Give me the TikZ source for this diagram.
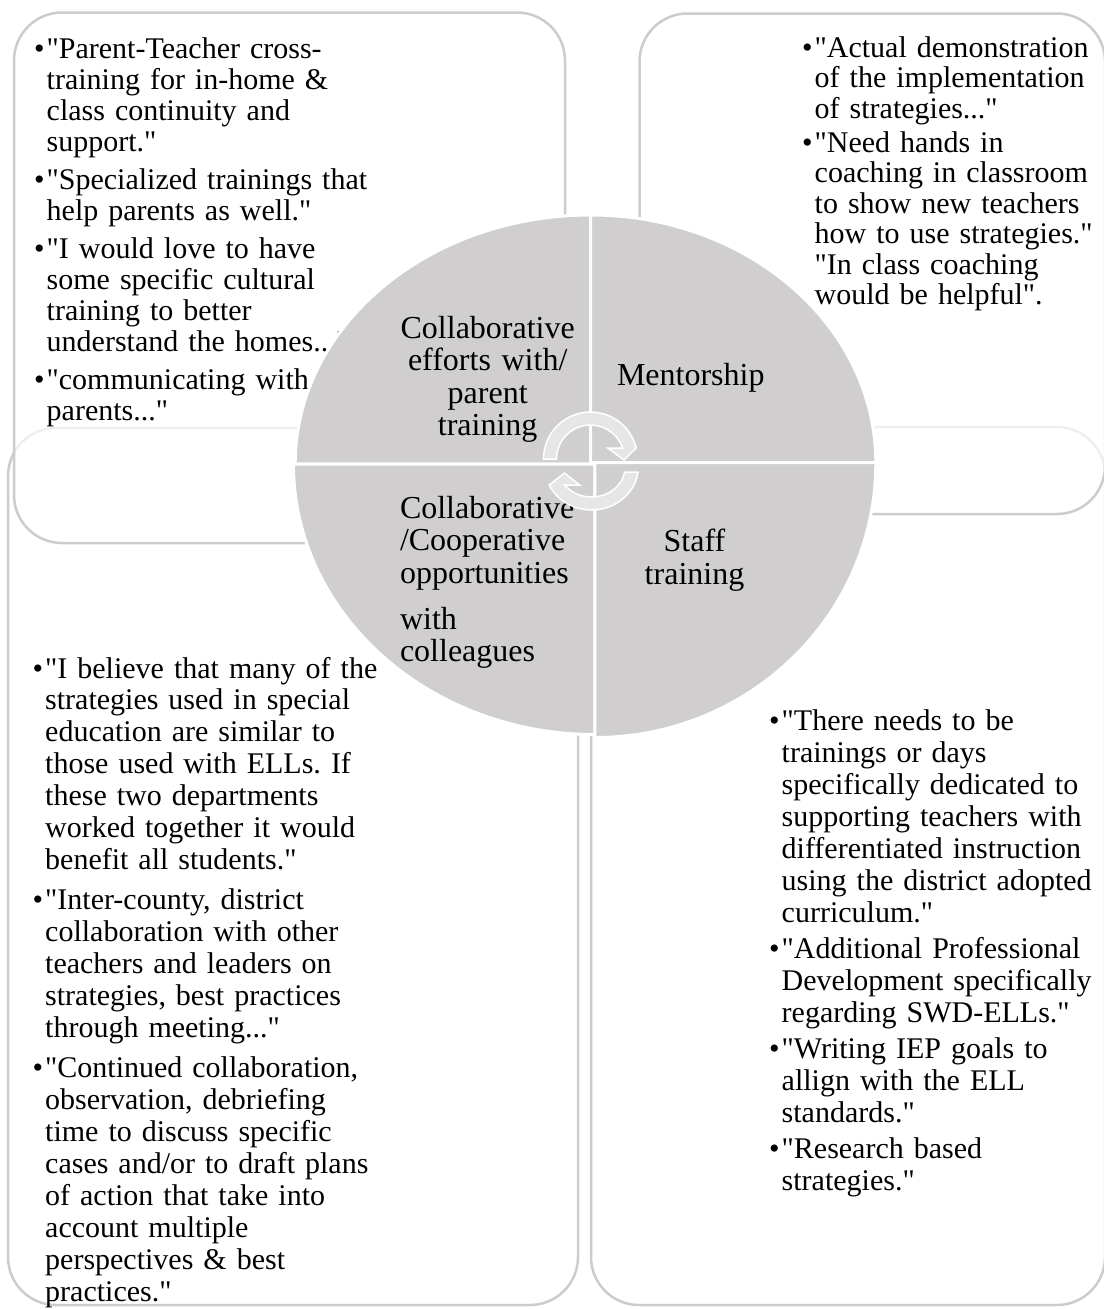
\documentclass[tikz,border=0pt]{standalone}
\usepackage{fontspec}
\setmainfont{Liberation Serif}[Ligatures=TeXOff]
\frenchspacing
\definecolor{boxline}{HTML}{CCCCCC}
\definecolor{quadfill}{HTML}{D0CECE}
\definecolor{arrowfill}{HTML}{E7E6E6}
% bullet with hanging indent, and the matching indent for continuation lines
\newcommand{\qbul}{\makebox[12.5pt][l]{\textbullet}}
\newcommand{\qind}{\hspace*{12.5pt}}
\begin{document}
\begin{tikzpicture}[x=1pt,y=-1pt,
  panel/.style={draw=boxline, line width=2.5pt, rounded corners=48pt, fill=white},
  frontpanel/.style={panel, fill opacity=0.7},
  quad/.style={fill=quadfill, draw=white, line width=3pt},
  cyc/.style={fill=arrowfill, draw=white, line width=1.5pt, line join=miter},
  quotetext/.style={anchor=base west, inner sep=0pt, text width=420pt, align=left},
  qlabel/.style={anchor=base, inner sep=0pt, text width=240pt, align=center,
                 font=\fontsize{32}{32.5}\selectfont}]
\useasboundingbox (0,0) rectangle (1103,1309);

% back panels (lower row)
\path[panel] (8,428) rectangle (578,1305);
\path[panel] (591,427) rectangle (1105,1305);
% front panels (upper row), slightly see-through
\path[frontpanel] (14,12.5) rectangle (565,543);
\path[frontpanel] (639.5,13.5) rectangle (1105,514);

% quotations
\node[quotetext, font=\fontsize{30}{31.2}\selectfont] (tlText) at (34,58.2) {%
\qbul"Parent-Teacher cross-\\
\qind training for in-home \&\\
\qind class continuity and\\
\qind support."\\[6.4pt]
\qbul"Specialized trainings that\\
\qind help parents as well."\\[6.4pt]
\qbul"I would love to have\\
\qind some specific cultural\\
\qind training to better\\
\qind understand the homes..."\\[6.4pt]
\qbul"communicating with\\
\qind parents..."};

\node[quotetext, font=\fontsize{30}{30.5}\selectfont] (trText) at (802,57) {%
\qbul"Actual demonstration\\
\qind of the implementation\\
\qind of strategies..."\\[3.5pt]
\qbul"Need hands in\\
\qind coaching in classroom\\
\qind to show new teachers\\
\qind how to use strategies."\\
\qind "In class coaching\\
\qind would be helpful".};

\node[quotetext, font=\fontsize{30}{31.9}\selectfont] (blText) at (32.5,678) {%
\qbul"I believe that many of the\\
\qind strategies used in special\\
\qind education are similar to\\
\qind those used with ELLs. If\\
\qind these two departments\\
\qind worked together it would\\
\qind benefit all students."\\[8.5pt]
\qbul"Inter-county, district\\
\qind collaboration with other\\
\qind teachers and leaders on\\
\qind strategies, best practices\\
\qind through meeting..."\\[8.5pt]
\qbul"Continued collaboration,\\
\qind observation, debriefing\\
\qind time to discuss specific\\
\qind cases and/or to draft plans\\
\qind of action that take into\\
\qind account multiple\\
\qind perspectives \& best\\
\qind practices."};

\node[quotetext, font=\fontsize{30}{32}\selectfont] (brText) at (769,730) {%
\qbul"There needs to be\\
\qind trainings or days\\
\qind specifically dedicated to\\
\qind supporting teachers with\\
\qind differentiated instruction\\
\qind using the district adopted\\
\qind curriculum."\\[4.3pt]
\qbul"Additional Professional\\
\qind Development specifically\\
\qind regarding SWD-ELLs."\\[4.3pt]
\qbul"Writing IEP goals to\\
\qind allign with the ELL\\
\qind standards."\\[4.3pt]
\qbul"Research based\\
\qind strategies."};

% the four quarters of the central disc
\path[quad] (590.6,464.2) -- ++(-295.4,0)
  arc[start angle=180, end angle=270, x radius=295.4, y radius=249.2] -- cycle;
\path[quad] (590.6,462.7) -- ++(0,-247.7)
  arc[start angle=270, end angle=360, x radius=285.2, y radius=247.7] -- cycle;
\path[quad] (594.9,464.2) -- ++(-301.4,0)
  arc[start angle=180, end angle=90, x radius=301.4, y radius=270.3] -- cycle;
\path[quad] (594.9,462.7) -- ++(280.9,0)
  arc[start angle=0, end angle=90, x radius=280.9, y radius=274.8] -- cycle;

% quarter titles
\node[qlabel] (lblCollab) at (487.7,338) {Collaborative\\efforts with/\\parent\\training};
\node[qlabel] (lblMentor) at (690.8,385.4) {Mentorship};
\node[qlabel, anchor=base west, align=left] (lblColleagues) at (399.8,518)
  {Collaborative\\/Cooperative\\opportunities\\[13.5pt]with\\colleagues};
\node[qlabel] (lblStaff) at (694.5,551.5) {Staff\\training};

% clockwise cycle arrows in the middle
\path[cyc] (543.5,459) arc[start angle=180, end angle=346.5, radius=47]
  -- (624,460) -- (607.7,448) -- (622.6,448)
  arc[start angle=341, end angle=180, radius=34] -- cycle;
\path[cyc] (638.1,472) arc[start angle=7.83, end angle=154.4, x radius=47, y radius=44]
  -- (564.4,473) -- (579.6,485) -- (564.6,485)
  arc[start angle=142.2, end angle=11.16, x radius=34, y radius=31] -- cycle;
\end{tikzpicture}
\end{document}
